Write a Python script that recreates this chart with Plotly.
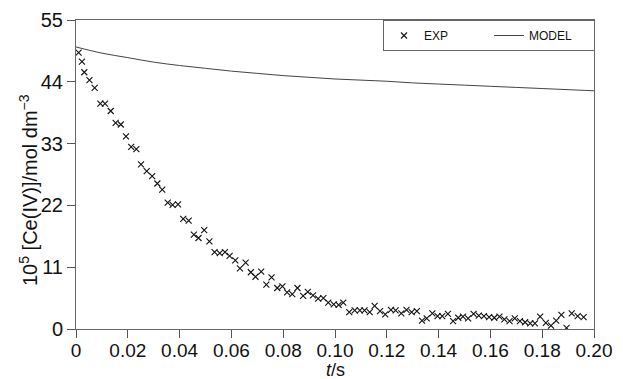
import plotly.graph_objects as go

# Experimental data (t in s, 10^5 [Ce(IV)] in mol dm^-3)
exp_t = [0.001, 0.0023, 0.0032, 0.0052, 0.0072, 0.0094, 0.0112, 0.0134, 0.0153, 0.0173,
         0.0193, 0.0213, 0.0233, 0.0251, 0.0273, 0.0294, 0.0314, 0.0333, 0.0354, 0.0373,
         0.0394, 0.0414, 0.0435, 0.0455, 0.0473, 0.0495, 0.0515, 0.0535, 0.0555, 0.0575,
         0.0593, 0.0615, 0.0633, 0.0655, 0.0675, 0.0693, 0.0715, 0.0735, 0.0755, 0.0777,
         0.0797, 0.0815, 0.0835, 0.0855, 0.0877, 0.0895, 0.0915, 0.0935, 0.0955, 0.0974,
         0.0995, 0.1014, 0.1032, 0.1055, 0.1076, 0.1096, 0.1114, 0.1134, 0.1153, 0.1174,
         0.1194, 0.1216, 0.1234, 0.1256, 0.1276, 0.1296, 0.1316, 0.1336, 0.1354, 0.1376,
         0.1396, 0.1414, 0.1436, 0.1456, 0.1476, 0.1494, 0.1514, 0.1535, 0.1555, 0.1575,
         0.1595, 0.1615, 0.1635, 0.1654, 0.1674, 0.1694, 0.1714, 0.1734, 0.1754, 0.1772,
         0.1792, 0.1814, 0.1834, 0.1854, 0.1874, 0.1894, 0.1914, 0.1937, 0.1960]
exp_c = [49.2, 47.6, 45.7, 44.3, 42.9, 40.1, 40.1, 38.8, 36.7, 36.4,
         34.3, 32.4, 32.0, 29.3, 28.1, 27.2, 25.9, 24.8, 22.5, 22.1,
         22.2, 19.6, 19.3, 16.8, 16.2, 17.6, 15.6, 13.7, 13.5, 13.7,
         13.0, 12.2, 10.8, 11.8, 10.1, 9.3, 10.2, 7.9, 9.2, 7.3,
         7.6, 6.5, 6.2, 7.3, 5.9, 6.6, 6.0, 5.4, 5.5, 4.7,
         4.4, 4.3, 4.7, 3.0, 3.3, 3.3, 3.3, 3.0, 4.1, 3.2,
         2.6, 3.4, 3.3, 2.8, 3.4, 3.0, 3.2, 1.5, 1.9, 2.8,
         2.3, 2.3, 2.7, 1.4, 2.0, 2.2, 1.9, 2.7, 2.4, 2.3,
         2.1, 2.0, 2.2, 1.7, 1.4, 1.9, 1.4, 1.2, 1.0, 1.0,
         2.2, 1.1, 0.6, 1.5, 2.5, 0.2, 2.8, 2.3, 2.1]

# Model curve
model_t = [0.0, 0.01, 0.02, 0.03, 0.04, 0.05, 0.06, 0.07, 0.08, 0.09, 0.10,
           0.11, 0.12, 0.13, 0.14, 0.15, 0.16, 0.17, 0.18, 0.19, 0.20]
model_c = [50.2, 49.1, 48.3, 47.5, 46.9, 46.4, 45.9, 45.5, 45.1, 44.8, 44.5,
           44.3, 44.1, 43.8, 43.6, 43.4, 43.2, 43.0, 42.8, 42.6, 42.4]

x_ticks = [0, 0.02, 0.04, 0.06, 0.08, 0.10, 0.12, 0.14, 0.16, 0.18, 0.20]
x_ticktext = ["0", "0.02", "0.04", "0.06", "0.08", "0.10", "0.12", "0.14", "0.16", "0.18", "0.20"]
y_ticks = [0, 11, 22, 33, 44, 55]

x_title = "<i>t</i>/s"
y_title = "10<sup>5</sup> [Ce(IV)]/mol dm<sup>−3</sup>"

FONT = "Liberation Sans, Arial, sans-serif"
W, H = 623, 379
L, R, T, B = 76, 29, 20, 50
PW, PH = W - L - R, H - T - B

fig = go.Figure()
fig.add_trace(go.Scatter(
    x=exp_t, y=exp_c, mode="markers", name="EXP",
    marker=dict(symbol="x-thin-open", size=6, color="#111",
                line=dict(width=1.1, color="#111")),
))
fig.add_trace(go.Scatter(
    x=model_t, y=model_c, mode="lines", name="MODEL",
    line=dict(color="#444", width=1), line_shape="spline",
))

fig.update_layout(
    width=W, height=H,
    margin=dict(l=L, r=R, t=T, b=B, autoexpand=False),
    paper_bgcolor="white", plot_bgcolor="white",
    font=dict(family=FONT, color="#111", size=18),
    showlegend=True,
    legend=dict(
        orientation="h", x=(383 - L) / PW, xanchor="left", y=1, yanchor="top",
        bordercolor="#666", borderwidth=1, bgcolor="white",
        font=dict(size=12, family=FONT),
        entrywidth=60, entrywidthmode="pixels",
        tracegroupgap=0,
    ),
    xaxis=dict(
        range=[0, 0.20], tickvals=x_ticks, ticktext=x_ticktext,
        ticks="outside", ticklen=8, tickcolor="#555", tickwidth=1,
        showline=True, linecolor="#666", linewidth=1, mirror=True,
        showgrid=False, zeroline=False, automargin=False,
        tickfont=dict(size=19), ticklabelstandoff=-4,
    ),
    yaxis=dict(
        range=[0, 55], tickvals=y_ticks,
        ticks="outside", ticklen=8, tickcolor="#555", tickwidth=1,
        showline=True, linecolor="#666", linewidth=1, mirror=True,
        showgrid=False, zeroline=False, automargin=False,
        tickfont=dict(size=20),
    ),
    annotations=[
        dict(text=x_title, xref="paper", yref="paper",
             x=(335 - L) / PW, y=-(370 - (T + PH)) / PH,
             xanchor="center", yanchor="middle", showarrow=False,
             font=dict(size=18, family=FONT)),
        dict(text=y_title, xref="paper", yref="paper",
             x=(28 - L) / PW, y=(T + PH - 190) / PH,
             xanchor="center", yanchor="middle", showarrow=False,
             textangle=-90, font=dict(size=20, family=FONT)),
    ],
)

fig.write_html(
    "out.html",
    config={"displayModeBar": False},
    post_script="document.body.style.margin='0';document.body.style.padding='0';",
)
